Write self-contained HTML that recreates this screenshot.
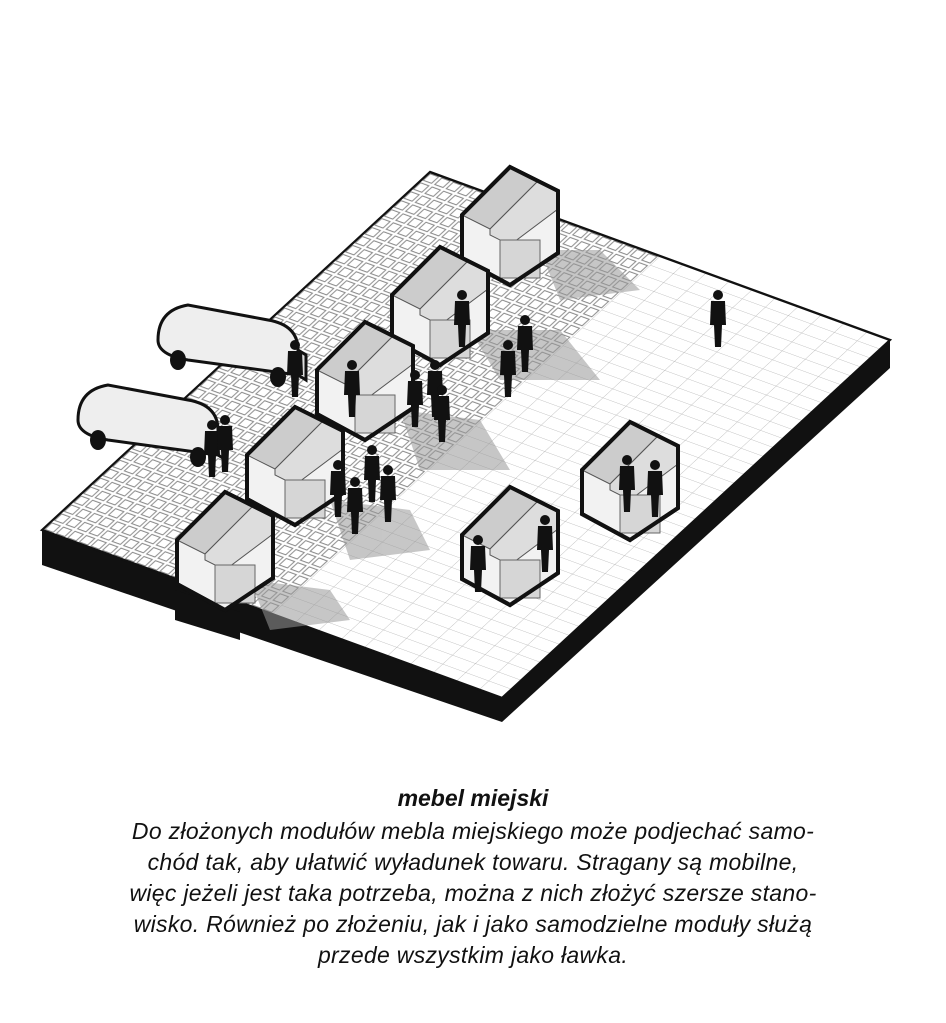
<!DOCTYPE html>
<html><head><meta charset="utf-8"><style>
body{margin:0;background:#fff;width:946px;height:1023px;overflow:hidden;font-family:"Liberation Sans",sans-serif}
.cap{position:absolute;left:0;width:946px;text-align:center;font-style:italic;color:#111}
</style></head><body>
<svg width="946" height="1023" style="position:absolute;left:0;top:0">
<defs>
<pattern id="sm" width="2.5" height="2.5" patternUnits="userSpaceOnUse">
<rect width="2.5" height="2.5" fill="#fff"/>
<rect x="0.35" y="0.35" width="1.8" height="1.8" fill="none" stroke="#888" stroke-width="0.22"/>
</pattern>
<pattern id="lg" width="5" height="2.5" patternUnits="userSpaceOnUse">
<rect width="5" height="2.5" fill="#fff"/>
<path d="M0 0H5M0 0V2.5" stroke="#aaa" stroke-width="0.15" fill="none"/>
</pattern>
<g id="house">
<polygon points="-48,0 0,-48 48,-24 48,38 0,70 -48,44" fill="#f2f2f2" stroke="#111" stroke-width="4"/>
<polygon points="-48,0 0,-48 28,-34 -20,14" fill="#ccc" stroke="#555" stroke-width="1"/>
<polygon points="-20,14 28,-34 48,-24 48,-6 0,30 -20,20" fill="#ddd" stroke="#555" stroke-width="1"/>
<rect x="-10" y="25" width="40" height="38" fill="#d6d6d6" stroke="#666"/>
<polygon points="-48,0 0,-48 48,-24 48,38 0,70 -48,44" fill="none" stroke="#111" stroke-width="4"/>
</g>
<g id="van">
<path d="M-70,-10 Q-70,-40 -40,-45 L40,-30 Q70,-25 70,0 L70,25 L-40,10 Q-70,5 -70,-10Z" fill="#eee" stroke="#111" stroke-width="3"/>
<path d="M70,0 L78,5 L78,30 L70,25" fill="#ddd" stroke="#111" stroke-width="3"/>
<ellipse cx="-50" cy="10" rx="8" ry="10" fill="#111"/><ellipse cx="50" cy="27" rx="8" ry="10" fill="#111"/>
</g>
<g id="p"><circle cx="0" cy="-30" r="5" fill="#111"/><path d="M-7,-24 L7,-24 L8,0 L4,0 L3,22 L-3,22 L-4,0 L-8,0Z" fill="#111"/></g>
</defs>
<polygon points="42,530 502,698 502,722 42,565" fill="#111"/>
<polygon points="502,698 890,340 890,368 502,722" fill="#111"/>
<polygon points="175,590 240,612 240,640 175,620" fill="#111"/>
<g transform="matrix(4.6,1.68,-3.88,3.58,430,172)">
<rect x="0" y="0" width="50" height="100" fill="url(#sm)"/>
<rect x="50" y="0" width="50" height="100" fill="url(#lg)"/>
<rect x="0" y="0" width="100" height="100" fill="none" stroke="#111" stroke-width="0.5"/>
</g>
<g fill="#999" opacity="0.55">
<polygon points="540,250 600,250 640,290 560,300"/>
<polygon points="470,330 560,330 600,380 500,380"/>
<polygon points="400,410 480,420 510,470 420,470"/>
<polygon points="330,500 410,510 430,550 350,560"/>
<polygon points="250,580 330,590 350,620 270,630"/>
</g>
<use href="#house" x="510" y="215"/>
<use href="#house" x="440" y="295"/>
<use href="#house" x="365" y="370"/>
<use href="#house" x="295" y="455"/>
<use href="#house" x="225" y="540"/>
<use href="#house" x="510" y="535"/>
<use href="#house" x="630" y="470"/>
<use href="#van" x="228" y="350"/>
<use href="#van" x="148" y="430"/>
<use href="#p" x="525" y="350"/><use href="#p" x="508" y="375"/><use href="#p" x="435" y="395"/>
<use href="#p" x="415" y="405"/><use href="#p" x="442" y="420"/><use href="#p" x="352" y="395"/>
<use href="#p" x="372" y="480"/><use href="#p" x="388" y="500"/><use href="#p" x="338" y="495"/>
<use href="#p" x="355" y="512"/><use href="#p" x="295" y="375"/><use href="#p" x="212" y="455"/>
<use href="#p" x="225" y="450"/><use href="#p" x="478" y="570"/><use href="#p" x="545" y="550"/>
<use href="#p" x="462" y="325"/><use href="#p" x="627" y="490"/><use href="#p" x="655" y="495"/>
<use href="#p" x="718" y="325"/>
</svg>
<div class="cap" style="top:785px;font-weight:bold;font-size:23px">mebel miejski</div>
<div class="cap" style="top:816px;font-size:23px;line-height:31px;letter-spacing:0.3px">Do złożonych modułów mebla miejskiego może podjechać samo-<br>chód tak, aby ułatwić wyładunek towaru. Stragany są mobilne,<br>więc jeżeli jest taka potrzeba, można z nich złożyć szersze stano-<br>wisko. Również po złożeniu, jak i jako samodzielne moduły służą<br>przede wszystkim jako ławka.</div>
</body></html>
